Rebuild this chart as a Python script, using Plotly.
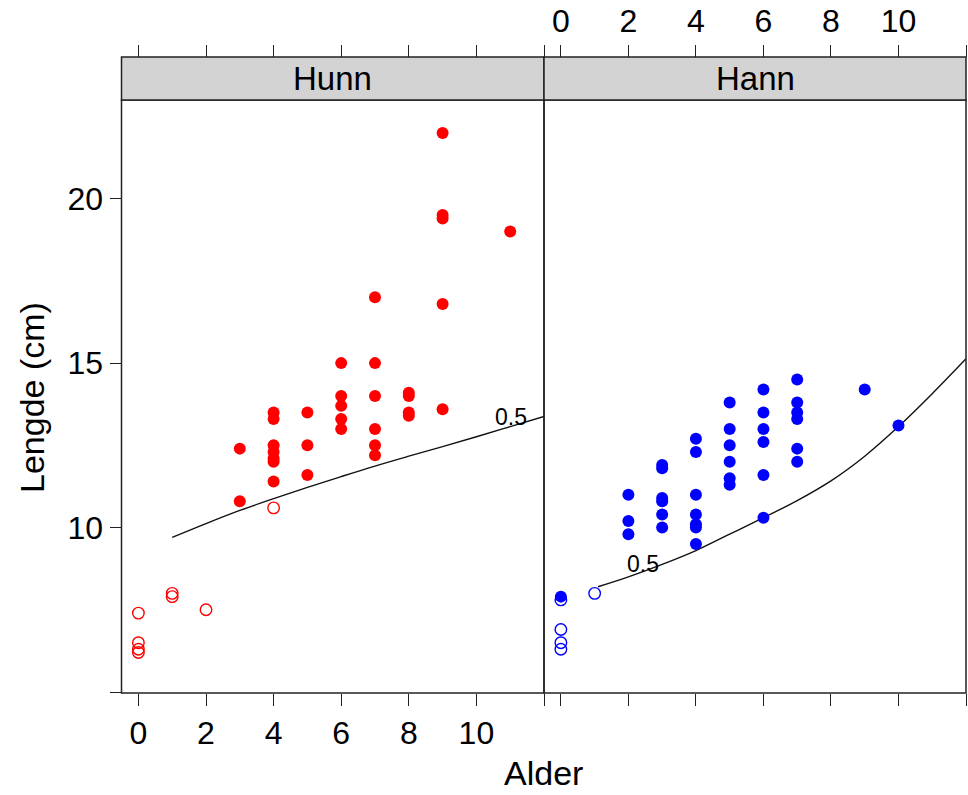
import plotly.graph_objects as go

# ---------------- data ----------------
# Hunn (female), filled = mature, open = immature
hunn_age_filled = [3, 3,
                   4, 4, 4, 4, 4, 4, 4,
                   5, 5, 5,
                   6, 6, 6, 6, 6,
                   7, 7, 7, 7, 7, 7,
                   8, 8, 8, 8,
                   9, 9, 9, 9, 9,
                   11]
hunn_len_filled = [12.4, 10.8,
                   13.5, 13.3, 12.5, 12.3, 12.1, 12.0, 11.4,
                   13.5, 12.5, 11.6,
                   15.0, 14.0, 13.7, 13.3, 13.0,
                   17.0, 15.0, 14.0, 13.0, 12.5, 12.2,
                   14.1, 14.0, 13.5, 13.4,
                   22.0, 19.5, 19.4, 16.8, 13.6,
                   19.0]
hunn_age_open = [0, 0, 0, 0, 1, 1, 2, 4]
hunn_len_open = [7.4, 6.5, 6.3, 6.2, 8.0, 7.9, 7.5, 10.6]

# Hann (male)
hann_age_filled = [0,
                   2, 2, 2,
                   3, 3, 3, 3, 3, 3,
                   4, 4, 4, 4, 4, 4, 4,
                   5, 5, 5, 5, 5, 5,
                   6, 6, 6, 6, 6, 6,
                   7, 7, 7, 7, 7, 7,
                   9, 10]
hann_len_filled = [7.9,
                   11.0, 10.2, 9.8,
                   11.9, 11.8, 10.9, 10.8, 10.4, 10.0,
                   12.7, 12.3, 11.0, 10.4, 10.1, 10.0, 9.5,
                   13.8, 13.0, 12.5, 12.0, 11.5, 11.3,
                   14.2, 13.5, 13.0, 12.6, 11.6, 10.3,
                   14.5, 13.8, 13.5, 13.3, 12.4, 12.0,
                   14.2, 13.1]
hann_age_open = [0, 0, 0, 0, 1]
hann_len_open = [7.8, 6.9, 6.5, 6.3, 8.0]

# 50 % maturity contour (length at age)
hunn_curve_age = [1, 2, 3, 4, 5, 6, 7, 8, 9, 10, 11, 12]
hunn_curve_len = [9.7, 10.12, 10.52, 10.88, 11.22, 11.55, 11.87, 12.17, 12.46, 12.76, 13.07, 13.38]
hann_curve_age = [1.1, 2, 3, 4, 5, 6, 7, 8, 9, 10, 11, 12]
hann_curve_len = [8.2, 8.5, 8.88, 9.3, 9.8, 10.3, 10.82, 11.42, 12.17, 13.07, 14.07, 15.13]

contour_label = "0.5"
panel_names = ["Hunn", "Hann"]
x_ticks = [0, 2, 4, 6, 8, 10, 12]
x_ticklabels = ["0", "2", "4", "6", "8", "10", ""]
y_ticks = [5, 10, 15, 20]
y_ticklabels = ["", "10", "15", "20"]

# ---------------- layout geometry ----------------
W, H = 968, 795
def px(x):
    return x / W
def py(y):
    return (H - y) / H

xl0, xmid, xr1 = 121.5, 544, 966
ytop, ybot = 100, 693
strip_top = 57

RED = "#ff0000"
BLUE = "#0000ff"
FONT = "Liberation Sans, Arial, sans-serif"

fig = go.Figure()

fig.add_trace(go.Scatter(x=hunn_curve_age, y=hunn_curve_len, mode="lines",
                         line=dict(color="#111111", width=1.4, shape="spline"),
                         xaxis="x", yaxis="y", hoverinfo="skip"))
fig.add_trace(go.Scatter(x=hann_curve_age, y=hann_curve_len, mode="lines",
                         line=dict(color="#111111", width=1.4, shape="spline"),
                         xaxis="x2", yaxis="y", hoverinfo="skip"))

fig.add_trace(go.Scatter(x=hunn_age_open, y=hunn_len_open, mode="markers",
                         marker=dict(symbol="circle-open", size=11.5, color=RED,
                                     line=dict(width=1.4, color=RED)),
                         xaxis="x", yaxis="y"))
fig.add_trace(go.Scatter(x=hunn_age_filled, y=hunn_len_filled, mode="markers",
                         marker=dict(symbol="circle", size=12, color=RED,
                                     line=dict(width=0)),
                         xaxis="x", yaxis="y"))
fig.add_trace(go.Scatter(x=hann_age_open, y=hann_len_open, mode="markers",
                         marker=dict(symbol="circle-open", size=11.5, color=BLUE,
                                     line=dict(width=1.4, color=BLUE)),
                         xaxis="x2", yaxis="y"))
fig.add_trace(go.Scatter(x=hann_age_filled, y=hann_len_filled, mode="markers",
                         marker=dict(symbol="circle", size=12, color=BLUE,
                                     line=dict(width=0)),
                         xaxis="x2", yaxis="y"))

xrange = [-0.5, 12.0]
yrange = [4.97, 23.0]
tickfont = dict(family=FONT, size=32, color="black")

common_x = dict(range=xrange, tickvals=x_ticks, ticks="outside", ticklen=12,
                tickwidth=1.3, tickcolor="#222222", showgrid=False,
                zeroline=False, showline=False, tickfont=tickfont)

fig.update_layout(
    width=W, height=H,
    margin=dict(l=0, r=0, t=0, b=0),
    paper_bgcolor="white", plot_bgcolor="white",
    showlegend=False,
    xaxis=dict(domain=[px(xl0), px(xmid)], anchor="y",
               ticktext=x_ticklabels, **common_x),
    xaxis2=dict(domain=[px(xmid), px(xr1)], anchor="y",
                ticktext=[""] * len(x_ticks), **common_x),
    xaxis3=dict(overlaying="x", matches="x", side="top", anchor="free",
                position=py(strip_top), ticktext=[""] * len(x_ticks), **common_x),
    xaxis4=dict(overlaying="x2", matches="x2", side="top", anchor="free",
                position=py(strip_top), ticktext=x_ticklabels, **common_x),
    yaxis=dict(domain=[py(ybot), py(ytop)], anchor="x", range=yrange,
               tickvals=y_ticks, ticktext=y_ticklabels, ticks="outside",
               ticklen=11, tickwidth=1.3, tickcolor="#222222",
               showgrid=False, zeroline=False, showline=False,
               tickfont=tickfont),
)

# dummy empty traces so the top axes are drawn
fig.add_trace(go.Scatter(x=[None], y=[None], xaxis="x3", yaxis="y",
                         mode="markers", hoverinfo="skip"))
fig.add_trace(go.Scatter(x=[None], y=[None], xaxis="x4", yaxis="y",
                         mode="markers", hoverinfo="skip"))

shapes = []
for a, b in [(xl0, xmid), (xmid, xr1)]:
    shapes.append(dict(type="rect", xref="paper", yref="paper",
                       x0=px(a), x1=px(b), y0=py(ybot), y1=py(ytop),
                       line=dict(color="#222222", width=1.5), fillcolor="rgba(0,0,0,0)",
                       layer="above"))
    shapes.append(dict(type="rect", xref="paper", yref="paper",
                       x0=px(a), x1=px(b), y0=py(ytop), y1=py(strip_top),
                       line=dict(color="#222222", width=1.5), fillcolor="#d3d3d3",
                       layer="above"))
fig.update_layout(shapes=shapes)

ann = []
for name, (a, b) in zip(panel_names, [(xl0, xmid), (xmid, xr1)]):
    ann.append(dict(text=name, xref="paper", yref="paper",
                    x=px((a + b) / 2), y=py((ytop + strip_top) / 2),
                    showarrow=False, xanchor="center", yanchor="middle",
                    font=dict(family=FONT, size=33, color="black")))
ann.append(dict(text="Lengde (cm)", xref="paper", yref="paper",
                x=px(32), y=py(398), textangle=-90, showarrow=False,
                xanchor="center", yanchor="middle",
                font=dict(family=FONT, size=34, color="black")))
ann.append(dict(text="Alder", xref="paper", yref="paper",
                x=px(543), y=py(773), showarrow=False,
                xanchor="center", yanchor="middle",
                font=dict(family=FONT, size=34, color="black")))
ann.append(dict(text=contour_label, xref="x", yref="y", x=11.02, y=13.36,
                showarrow=False, xanchor="center", yanchor="middle",
                font=dict(family=FONT, size=23, color="black")))
ann.append(dict(text=contour_label, xref="x2", yref="y", x=2.43, y=8.88,
                showarrow=False, xanchor="center", yanchor="middle",
                font=dict(family=FONT, size=23, color="black")))
fig.update_layout(annotations=ann)

fig.write_html("out.html")
